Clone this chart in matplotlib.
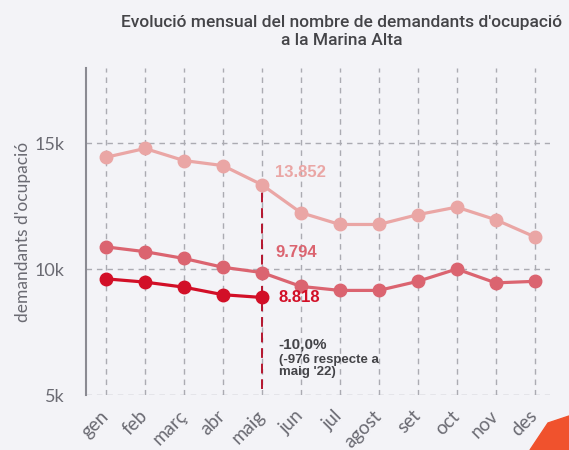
import matplotlib
matplotlib.use("Agg")
import matplotlib.pyplot as plt
import matplotlib.transforms as mtransforms
from matplotlib.patches import Polygon

# months (Valencian/Catalan)
months = ["gen", "feb", "març", "abr", "maig", "jun", "jul", "agost", "set", "oct", "nov", "des"]

# series
serie_2021 = [14450, 14800, 14320, 14120, 13360, 12250, 11780, 11780, 12170, 12470, 11970, 11290]
serie_2022 = [10890, 10700, 10430, 10080, 9870, 9320, 9160, 9160, 9520, 10010, 9460, 9520]
serie_2023 = [9620, 9490, 9290, 8990, 8880]

label_2021 = "13.852"
label_2022 = "9.794"
label_2023 = "8.818"
yticks = [5000, 10000, 15000]
ytick_labels = ["5k", "10k", "15k"]

bg = "#f3f3f7"
c1 = "#eaa6a5"
c2 = "#db6470"
c3 = "#d20f27"

fig = plt.figure(figsize=(5.69, 4.5), dpi=100, facecolor=bg)
ax = fig.add_axes([0.152, 0.122, 0.815, 0.727], facecolor=bg)

x = list(range(len(months)))
ax.plot(x, serie_2021, color=c1, lw=2.3, marker="o", ms=9, zorder=3)
ax.plot(x, serie_2022, color=c2, lw=2.3, marker="o", ms=9, zorder=3)
ax.plot(x[:len(serie_2023)], serie_2023, color=c3, lw=2.3, marker="o", ms=9, zorder=4)

# dashed marker line at maig
im = len(serie_2023) - 1
ax.plot([im, im], [5250, serie_2021[im]], color="#b5152e", lw=1.4, ls=(0, (5, 3)), zorder=2)

ax.set_xlim(-0.5, 11.4)
ax.set_ylim(5000, 18000)
ax.set_xticks(x)
ax.set_xticklabels(months, rotation=45, ha="right", va="center", rotation_mode="anchor",
                   family="Lato", fontsize=13.5, color="#6a6a72")
# nudge the rotated labels a bit to the right, like the original
shift = mtransforms.ScaledTranslation(0.05, 0, fig.dpi_scale_trans)
for lab in ax.get_xticklabels():
    lab.set_transform(lab.get_transform() + shift)
ax.set_yticks(yticks)
ax.set_yticklabels(ytick_labels, family="Lato", fontsize=13, color="#6a6a72")
ax.tick_params(axis="x", length=0, pad=13)
ax.tick_params(axis="y", length=0, pad=16)
ax.grid(True, color="#ababb2", ls=(0, (4, 3.5)), lw=1.0)
ax.set_axisbelow(True)
for s in ["top", "right", "bottom"]:
    ax.spines[s].set_visible(False)
ax.spines["left"].set_color("#8a8a92")
ax.spines["left"].set_linewidth(1.5)
ax.set_ylabel("demandants d'ocupació", family="Lato", fontsize=12.5, color="#6a6a72", labelpad=2)

# annotations
ax.text(4.34, 13840, label_2021, color=c1, fontsize=12, fontweight="bold", family="Liberation Sans", va="center")
ax.text(4.34, 10650, label_2022, color=c2, fontsize=12, fontweight="bold", family="Liberation Sans", va="center")
ax.text(4.44, 8860, label_2023, color=c3, fontsize=12, fontweight="bold", family="Liberation Sans", va="center")
ax.text(4.43, 7010, "-10,0%", color="#444448", fontsize=11, fontweight="bold", family="Liberation Sans", va="center")
ax.text(4.43, 6650, "(-976 respecte a\nmaig '22)", color="#444448", fontsize=9.5, fontweight="bold",
        family="Liberation Sans", va="top", linespacing=1.05)

fig.text(0.6, 0.93, "Evolució mensual del nombre de demandants d'ocupació\na la Marina Alta",
         ha="center", va="center", fontsize=12.5, fontweight="medium", family="Roboto", color="#444448",
         linespacing=1.3)

# decorative corner shape
fig.patches.append(Polygon([(530 / 569, 0), (548 / 569, 27 / 450), (1, 34 / 450), (1, 0)],
                           closed=True, transform=fig.transFigure, color="#f0522d", zorder=-1))

fig.savefig("out.png", dpi=100, facecolor=bg)
